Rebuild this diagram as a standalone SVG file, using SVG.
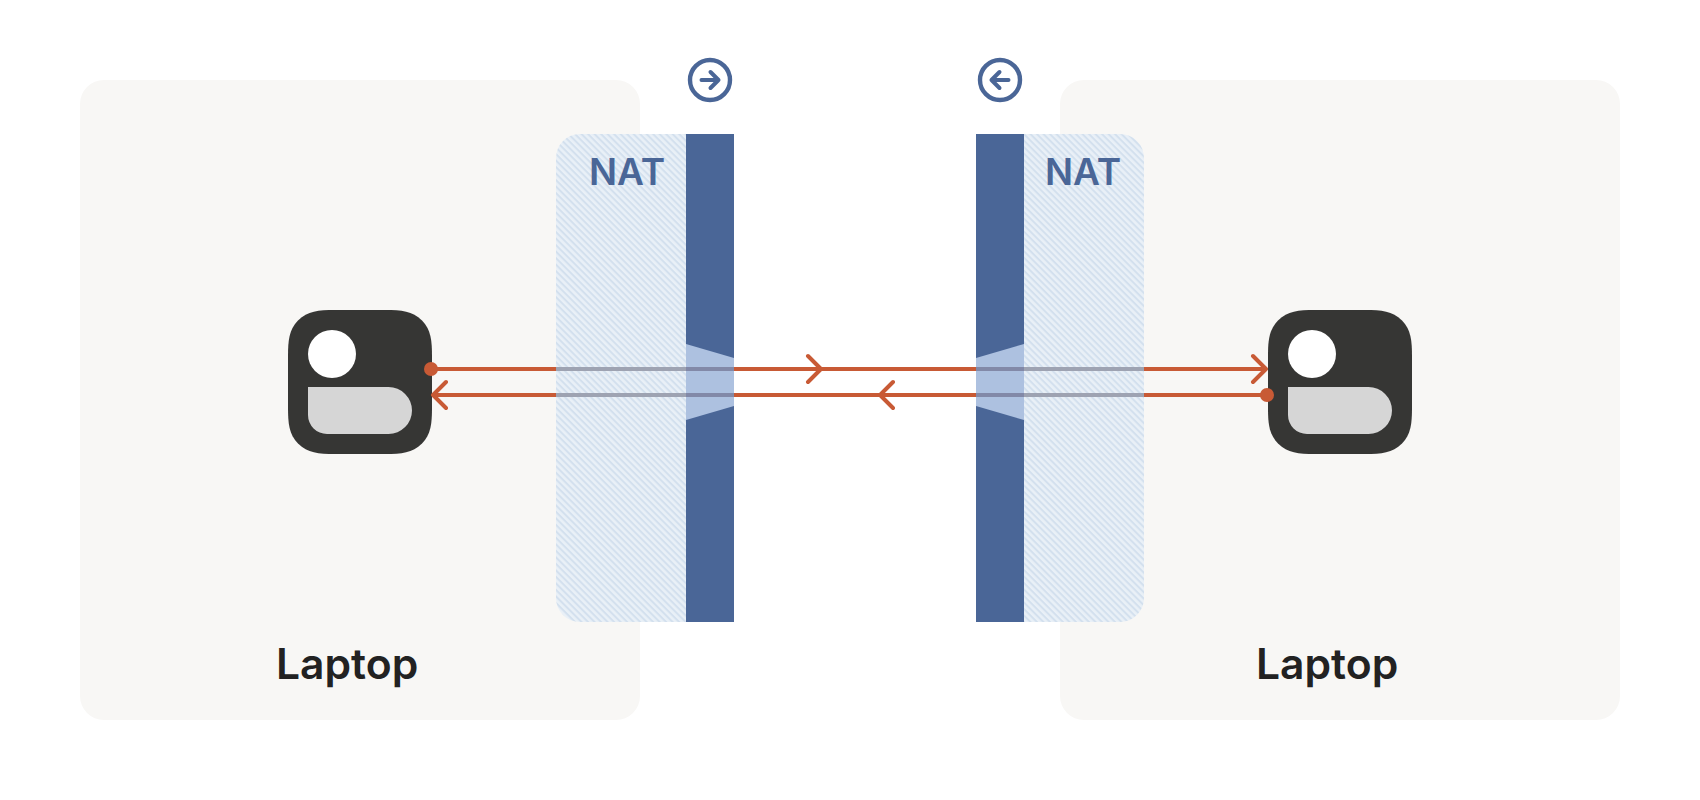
<svg xmlns="http://www.w3.org/2000/svg" width="1700" height="800" viewBox="0 0 1700 800">
<style>
.panel{fill:#f8f7f5}
.bar{fill:#4a6697}
.trap{fill:#adc1e0}
.nat{fill:url(#hatch)}
.natlabel{font:600 37px Inter,"Liberation Sans",sans-serif;fill:#4a6697}
.laptop{font:600 42.6px Inter,"Liberation Sans",sans-serif;fill:#222}
.body{fill:#363634}
.head{fill:#fff}
.tray{fill:#d6d6d6}
.ring{fill:#fff;stroke:#4a6697;stroke-width:4.4}
.glyph{fill:none;stroke:#4a6697;stroke-width:4;stroke-linecap:round;stroke-linejoin:round}
.wire{fill:none;stroke:#c85a35;stroke-width:4;stroke-linecap:round;stroke-linejoin:round}
.shade1{stroke:#9ea3b2;stroke-width:4}
.shade2{stroke:#8289a8;stroke-width:4}
.dot{fill:#c85a35}
</style>
<defs>
<pattern id="hatch" width="4.6" height="4.6" patternUnits="userSpaceOnUse" patternTransform="rotate(45)">
<rect width="4.6" height="4.6" fill="#e9f0f7"/>
<rect width="4.6" height="2" fill="#d3e0ee"/>
</pattern>
<path id="devshape" d="M0 47C0 30 1 20 10 10.500C20 1 30 0 47 0H97C114 0 124 1 134 10.500C143 20 144 30 144 47V97C144 114 143 124 134 133.500C124 143 114 144 97 144H47C30 144 20 143 10 133.500C1 124 0 114 0 97Z"/>
</defs>
<rect width="1700" height="800" fill="#fff"/>
<g id="panel-left"><rect class="panel" x="80" y="80" width="560" height="640" rx="24"/><text class="laptop" x="276" y="679">Laptop</text></g>
<g id="panel-right"><rect class="panel" x="1060" y="80" width="560" height="640" rx="24"/><text class="laptop" x="1256" y="679">Laptop</text></g>
<g id="nat-left">
<path class="nat" d="M580 134H686V622H580A24 24 0 0 1 556 598V158A24 24 0 0 1 580 134Z"/>
<rect class="bar" x="686" y="134" width="48" height="488"/>
<path class="trap" d="M686 344L734 358V406L686 420Z"/>
<text class="natlabel" x="627" y="184.500" text-anchor="middle">NAT</text>
</g>
<g id="nat-right">
<path class="nat" d="M1024 134H1120A24 24 0 0 1 1144 158V598A24 24 0 0 1 1120 622H1024Z"/>
<rect class="bar" x="976" y="134" width="48" height="488"/>
<path class="trap" d="M1024 344L976 358V406L1024 420Z"/>
<text class="natlabel" x="1083" y="184.500" text-anchor="middle">NAT</text>
</g>
<g id="icon-out"><circle class="ring" cx="710" cy="80" r="20"/><path class="glyph" d="M701.500 80H718.500M710.500 72L718.500 80L710.500 88"/></g>
<g id="icon-in"><circle class="ring" cx="1000" cy="80" r="20"/><path class="glyph" d="M1008.500 80H991.500M999.500 72L991.500 80L999.500 88"/></g>
<g id="device-left"><use href="#devshape" x="288" y="310" class="body"/><circle class="head" cx="332" cy="354" r="24"/><path class="tray" d="M308 387H388.500A23.500 23.500 0 0 1 388.500 434H327A19 19 0 0 1 308 415Z"/></g>
<g id="device-right"><use href="#devshape" x="1268" y="310" class="body"/><circle class="head" cx="1312" cy="354" r="24"/><path class="tray" d="M1288 387H1368.500A23.500 23.500 0 0 1 1368.500 434H1307A19 19 0 0 1 1288 415Z"/></g>
<g id="connectors">
<path class="wire" d="M431 369H1266M1253 356L1266 369L1253 382M808 356L821 369L808 382"/>
<path class="wire" d="M1267 395H433M446 382L433 395L446 408M893 382L880 395L893 408"/>
<path class="shade1" d="M556 369H686M556 395H686M1024 369H1144M1024 395H1144"/>
<path class="shade2" d="M686 369H734M686 395H734M976 369H1024M976 395H1024"/>
<circle class="dot" cx="431" cy="369" r="7"/>
<circle class="dot" cx="1267" cy="395" r="7"/>
</g>
</svg>
